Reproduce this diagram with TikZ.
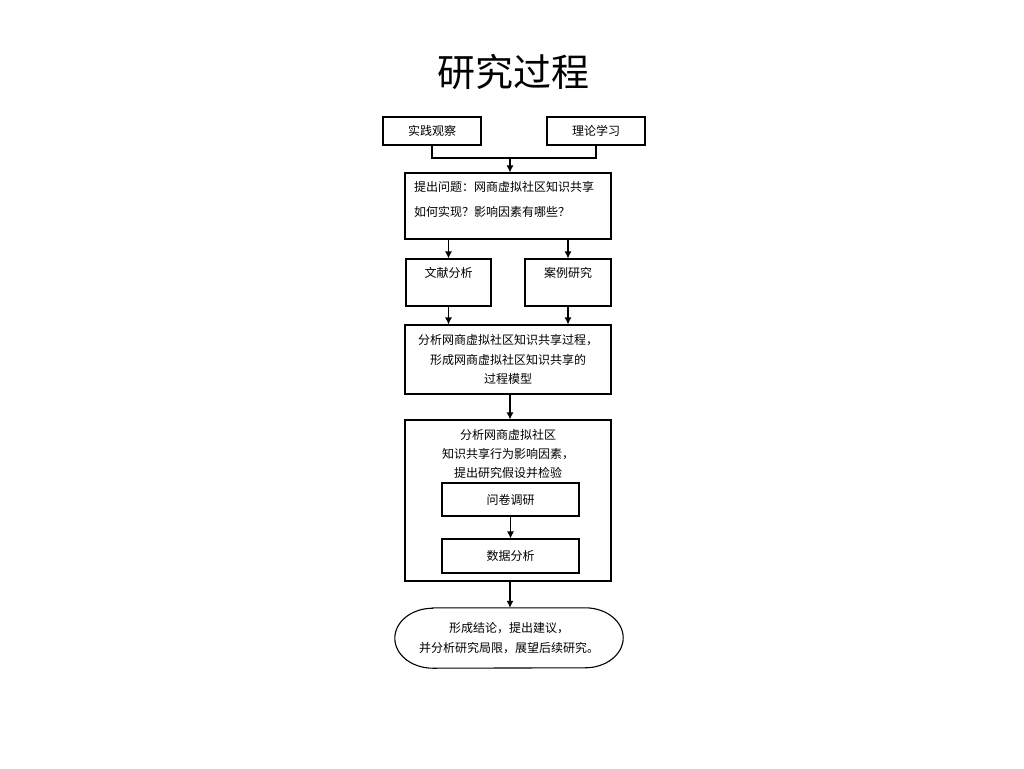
\documentclass[tikz,border=0pt]{standalone}
\usepackage{fontspec}
\setmainfont{Noto Sans CJK SC}
\usetikzlibrary{arrows.meta}
\begin{document}
\begin{tikzpicture}[x=1pt,y=-1pt,
  box/.style={draw, line width=1.1pt, inner sep=0pt},
  txt/.style={font=\fontsize{12}{19.5}\selectfont, inner sep=0pt, align=center},
  conn/.style={line width=1.1pt},
  arr/.style={line width=1.1pt, -{Latex[length=7pt,width=7pt]}}]
\useasboundingbox[fill=white] (0,0) rectangle (1024,768);
\node[font=\fontsize{38}{40}\selectfont, inner sep=0pt] (title) at (513,72) {研究过程};
% boxes
\node[box, minimum width=98pt, minimum height=28pt, txt] (b1) at (432,131) {实践观察};
\node[box, minimum width=98pt, minimum height=28pt, txt] (b2) at (596,131) {理论学习};
\node[box, minimum width=206pt, minimum height=66pt] (q) at (508,206) {};
\node[txt, align=left, anchor=west, font=\fontsize{12}{25}\selectfont] (qt) at (414,199.5) {提出问题：网商虚拟社区知识共享\\如何实现？影响因素有哪些？};
\node[box, minimum width=85pt, minimum height=47pt] (wx) at (448.5,282.5) {};
\node[txt] (wxt) at (448.5,273) {文献分析};
\node[box, minimum width=86pt, minimum height=47pt] (case) at (568,282.5) {};
\node[txt] (caset) at (568,273) {案例研究};
\node[box, minimum width=206pt, minimum height=69pt, txt] (model) at (508,359.5) {分析网商虚拟社区知识共享过程，\\形成网商虚拟社区知识共享的\\过程模型};
\node[box, minimum width=206pt, minimum height=161pt] (big) at (508,500.5) {};
\node[txt, font=\fontsize{12}{19}\selectfont] (bigt) at (508,454) {分析网商虚拟社区\\知识共享行为影响因素，\\提出研究假设并检验};
\node[box, minimum width=137pt, minimum height=33pt, txt] (survey) at (510.5,499.5) {问卷调研};
\node[box, minimum width=137pt, minimum height=34pt, txt] (data) at (510.5,556) {数据分析};
\node[minimum width=228pt, minimum height=60pt, inner sep=0pt, txt, font=\fontsize{12}{20}\selectfont] (concl) at (509,638) {形成结论，提出建议，\\并分析研究局限，展望后续研究。};
\draw[line width=1.1pt] ([xshift=38pt]concl.north west) -- ([xshift=-38pt]concl.north east)
  arc[start angle=90, end angle=-90, x radius=38pt, y radius=30pt]
  -- ([xshift=38pt]concl.south west)
  arc[start angle=270, end angle=90, x radius=38pt, y radius=30pt] -- cycle;
% connectors
\coordinate (j) at (510,158);
\draw[conn] (b1.south) |- (j) -| (b2.south);
\draw[arr] (j) -- (j |- q.north);
\draw[arr] (wx.north |- q.south) -- (wx.north);
\draw[arr] (case.north |- q.south) -- (case.north);
\draw[arr] (wx.south) -- (wx.south |- model.north);
\draw[arr] (case.south) -- (case.south |- model.north);
\draw[arr] (j |- model.south) -- (j |- big.north);
\draw[arr] (survey.south) -- (data.north);
\draw[arr] (j |- big.south) -- (j |- concl.north);
\end{tikzpicture}
\end{document}
